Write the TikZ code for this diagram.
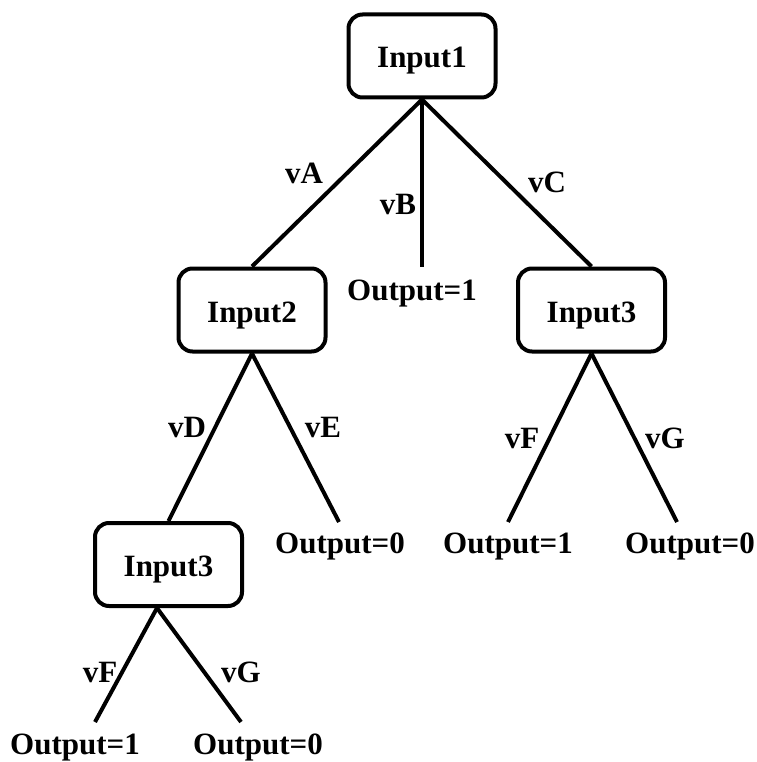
\documentclass[tikz,border=0pt]{standalone}
\usepackage{fontspec}
\setmainfont{Liberation Serif}
\begin{document}
\begin{tikzpicture}[x=1pt,y=-1pt,
  every node/.style={font=\fontsize{31}{37}\selectfont\bfseries},
  inbox/.style={draw, line width=4pt, rounded corners=14pt,
    minimum width=147pt, minimum height=83pt, inner sep=0pt,
    text height=24pt, text depth=0pt},
  lbl/.style={anchor=base, inner sep=0pt},
  branch/.style={line width=4pt}]
\useasboundingbox (0,0) rectangle (756,762);

% decision nodes
\node[inbox] (in1)  at (422,56)    {Input1};
\node[inbox] (in2)  at (252,310)   {Input2};
\node[inbox] (in3r) at (591.5,310) {Input3};
\node[inbox] (in3l) at (168.5,564.5) {Input3};

% leaf outputs
\node[lbl] (o1m) at (412,300) {Output=1};
\node[lbl] (o0m) at (340,553) {Output=0};
\node[lbl] (o1r) at (508,553) {Output=1};
\node[lbl] (o0r) at (690,553) {Output=0};
\node[lbl] (o1l) at (75,754)  {Output=1};
\node[lbl] (o0l) at (258,754) {Output=0};

% free ends of the leaf branches
\coordinate (b1m) at (422,267);
\coordinate (b0m) at (339,522);
\coordinate (b1r) at (508,522);
\coordinate (b0r) at (677,522);
\coordinate (b1l) at (95,722);
\coordinate (b0l) at (241,722);
\coordinate (in3lfoot) at ([xshift=-11.5pt]in3l.south);

% branches
\draw[branch] (in1.south) -- (in2.north);
\draw[branch] (in1.south) -- (b1m);
\draw[branch] (in1.south) -- (in3r.north);
\draw[branch] (in2.south) -- (in3l.north);
\draw[branch] (in2.south) -- (b0m);
\draw[branch] (in3r.south) -- (b1r);
\draw[branch] (in3r.south) -- (b0r);
\draw[branch] (in3lfoot) -- (b1l);
\draw[branch] (in3lfoot) -- (b0l);

% branch labels
\node[lbl] (la) at (304,183) {vA};
\node[lbl] (lb) at (398,214) {vB};
\node[lbl] (lc) at (547,193) {vC};
\node[lbl] (ld) at (187,437) {vD};
\node[lbl] (le) at (323,437) {vE};
\node[lbl] (lfr) at (522,448) {vF};
\node[lbl] (lgr) at (665,448) {vG};
\node[lbl] (lfl) at (100,682) {vF};
\node[lbl] (lgl) at (241,682) {vG};
\end{tikzpicture}
\end{document}
